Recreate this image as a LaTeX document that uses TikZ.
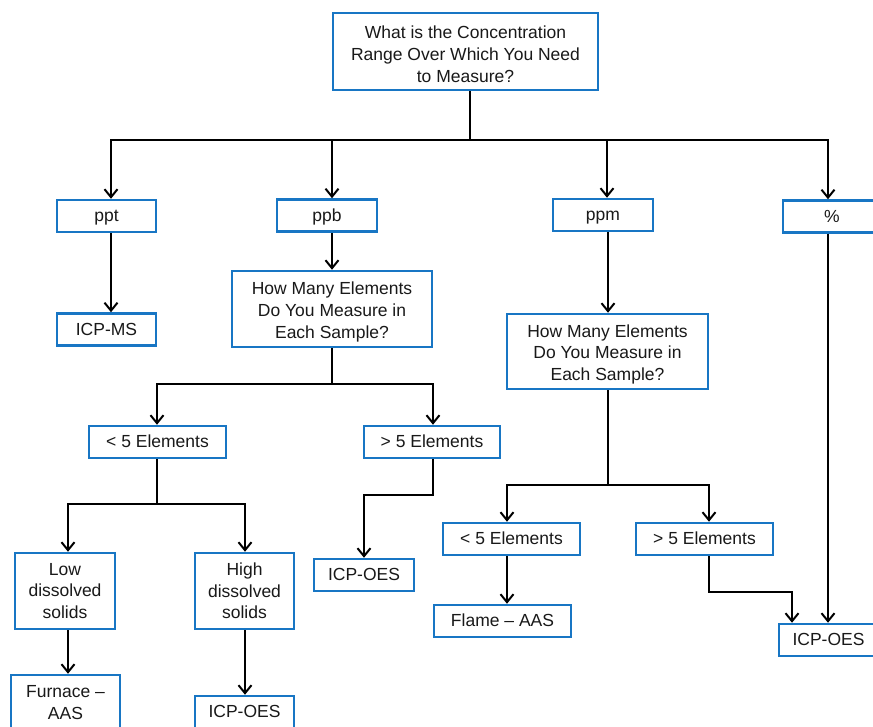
\documentclass[tikz,border=0pt]{standalone}
\usepackage{fontspec}
\setmainfont{Liberation Sans}
\usetikzlibrary{arrows.meta}
\definecolor{boxblue}{RGB}{24,118,196}
\newcommand{\topfix}{\rule{0pt}{18.5pt}}
\begin{document}
\begin{tikzpicture}[x=1pt,y=-1pt,
  box/.style={draw=boxblue, line width=2.5pt, inner sep=0pt, align=center, fill=white,
    font=\fontsize{17.5}{21.7}\selectfont, text=black!90},
  one/.style={box, text height=13.5pt, text depth=2.5pt},
  arr/.style={line width=2pt, -{Straight Barb[length=8pt,width=13pt,line width=2pt]}},
  ln/.style={line width=2pt}]
\clip (0,0) rectangle (873,726);
\fill[white] (0,0) rectangle (873,726);
% nodes
\node[box, minimum width=265pt, minimum height=77pt] (q0) at (465.5,51.5) {\topfix What is the Concentration\\Range Over Which You Need\\to Measure?};
\node[one, minimum width=99pt, minimum height=32pt] (ppt) at (106.5,216) {ppt};
\node[one, minimum width=100pt, minimum height=32pt] (ppb) at (327,215.5) {ppb};
\node[one, minimum width=100pt, minimum height=32pt] (ppm) at (603,215) {ppm};
\node[one, minimum width=98pt, minimum height=32pt] (pct) at (832,216.5) {\%};
\node[one, minimum width=99pt, minimum height=32pt] (icpms) at (106.5,329.5) {ICP-MS};
\node[box, minimum width=200pt, minimum height=76pt] (q1) at (332,309) {\topfix How Many  Elements\\Do You Measure in\\Each Sample?};
\node[box, minimum width=201pt, minimum height=75pt] (q2) at (607.5,351.5) {\topfix How Many  Elements\\Do You Measure in\\Each Sample?};
\node[one, minimum width=137pt, minimum height=32pt] (lt1) at (157.5,442) {< 5 Elements};
\node[one, minimum width=136pt, minimum height=32pt] (gt1) at (432,442) {> 5 Elements};
\node[box, minimum width=100pt, minimum height=76pt] (low) at (65,591) {Low\\dissolved\\solids};
\node[box, minimum width=99pt, minimum height=76pt] (high) at (244.5,591) {High\\dissolved\\solids};
\node[box, minimum width=109pt, minimum height=76pt] (furn) at (65.5,713) {\topfix Furnace –\\AAS\\\strut};
\node[one, minimum width=99pt, minimum height=32pt] (icp1) at (244.5,712) {ICP-OES};
\node[one, minimum width=100pt, minimum height=32pt] (icp2) at (364,575) {ICP-OES};
\node[one, minimum width=137pt, minimum height=32pt] (lt2) at (511.5,539) {< 5 Elements};
\node[one, minimum width=137pt, minimum height=32pt] (gt2) at (704.5,539) {> 5 Elements};
\node[one, minimum width=137pt, minimum height=32pt] (flame) at (502.5,621) {Flame – AAS};
\node[one, minimum width=99pt, minimum height=32pt] (icp3) at (828.5,640) {ICP-OES};
% junctions
\coordinate (j0) at (470,140);
\coordinate (j1) at (332,384);
\coordinate (j2) at (157,504);
\coordinate (j3) at (433,495);
\coordinate (j4) at (608,485);
\coordinate (j5) at (709,592);
% connectors
\draw[ln] (q0.south -| j0) -- (j0);
\draw[arr] (j0) -| ([xshift=4.5pt]ppt.north);
\draw[arr] (j0) -| ([xshift=5pt]ppb.north);
\draw[arr] (j0) -| ([xshift=4pt]ppm.north);
\draw[arr] (j0) -| ([xshift=-4pt]pct.north);
\draw[arr] ([xshift=4.5pt]ppt.south) -- ([xshift=4.5pt]icpms.north);
\draw[arr] ([xshift=5pt]ppb.south) -- (q1.north);
\draw[ln] (q1.south) -- (j1);
\draw[arr] (j1) -| ([xshift=-0.5pt]lt1.north);
\draw[arr] (j1) -| ([xshift=1pt]gt1.north);
\draw[ln] ([xshift=-0.5pt]lt1.south) -- (j2);
\draw[arr] (j2) -| ([xshift=3pt]low.north);
\draw[arr] (j2) -| ([xshift=0.5pt]high.north);
\draw[arr] ([xshift=3pt]low.south) -- ([xshift=2.5pt]furn.north);
\draw[arr] ([xshift=0.5pt]high.south) -- ([xshift=0.5pt]icp1.north);
\draw[arr] ([xshift=1pt]gt1.south) |- (j3) -| (icp2.north);
\draw[arr] ([xshift=5pt]ppm.south) -- ([xshift=0.5pt]q2.north);
\draw[ln] ([xshift=0.5pt]q2.south) -- (j4);
\draw[arr] (j4) -| ([xshift=-4.5pt]lt2.north);
\draw[arr] (j4) -| ([xshift=4.5pt]gt2.north);
\draw[arr] ([xshift=-4.5pt]lt2.south) -- ([xshift=4.5pt]flame.north);
\draw[arr] ([xshift=4.5pt]gt2.south) |- (j5) -| ([xshift=-36.5pt]icp3.north);
\draw[arr] ([xshift=-4pt]pct.south) -- ([xshift=-0.5pt]icp3.north);
\end{tikzpicture}
\end{document}
